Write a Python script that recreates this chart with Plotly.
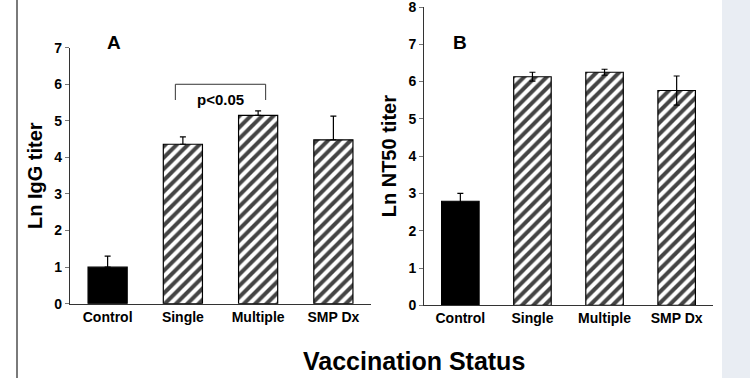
import plotly.graph_objects as go

categories = ["Control", "Single", "Multiple", "SMP Dx"]
igg_values = [1.0, 4.36, 5.15, 4.48]
igg_err_up = [0.3, 0.2, 0.12, 0.65]
nt50_values = [2.79, 6.13, 6.25, 5.76]
nt50_err_up = [0.21, 0.12, 0.08, 0.39]
nt50_err_down = [0.27, 0.12, 0.08, 0.39]
igg_ticks = [0, 1, 2, 3, 4, 5, 6, 7]
nt50_ticks = [0, 1, 2, 3, 4, 5, 6, 7, 8]

W, H = 750, 378
FONT = "Liberation Sans, Arial, sans-serif"

def px_x(a, b):
    return [a / W, b / W]

def px_y(top, bottom):
    return [(H - bottom) / H, (H - top) / H]

def pt_x(a):
    return a / W

def pt_y(a):
    return (H - a) / H

pattern_shapes = ["", "/", "/", "/"]
bar_colors = ["black", "white", "white", "white"]

fig = go.Figure()

for vals, up, down, xa, ya in [
    (igg_values, igg_err_up, [0, 0, 0, 0], "x", "y"),
    (nt50_values, nt50_err_up, nt50_err_down, "x2", "y2"),
]:
    fig.add_trace(go.Bar(
        x=categories, y=vals, xaxis=xa, yaxis=ya,
        width=0.52,
        marker=dict(color=bar_colors, line=dict(color="black", width=1.2),
                    pattern=dict(shape=pattern_shapes, fgcolor="black", fgopacity=1,
                                 size=8, solidity=0.5, fillmode="overlay")),
        error_y=dict(type="data", symmetric=False, array=up,
                     arrayminus=down, color="black", thickness=1.2, width=3),
        showlegend=False,
    ))

tickfont = dict(family=FONT, size=14, color="black", weight="bold")
catfont = dict(family=FONT, size=14, color="black", weight="bold")
common_x = dict(type="category", range=[-0.5, 3.5], showline=True, linecolor="#333333",
                linewidth=1.2, ticks="", tickfont=catfont, showgrid=False,
                zeroline=False, fixedrange=True, automargin=False)
common_y = dict(showline=True, linecolor="#333333", linewidth=1.2, ticks="outside",
                ticklen=4, tickwidth=1, tickcolor="#777777", tickfont=tickfont,
                showgrid=False, zeroline=False, fixedrange=True, automargin=False,
                ticklabeloverflow="allow")

fig.update_layout(
    width=W, height=H,
    margin=dict(l=0, r=0, t=0, b=0, pad=0),
    paper_bgcolor="white", plot_bgcolor="rgba(0,0,0,0)",
    font=dict(family=FONT, color="black"),
    xaxis=dict(domain=px_x(70, 371), anchor="y", **common_x),
    yaxis=dict(domain=px_y(47.7, 303.7), anchor="x", range=[0, 7],
               tickvals=igg_ticks,
               title=dict(text="Ln IgG titer", font=dict(family=FONT, size=20, weight="bold"),
                          standoff=6),
               **common_y),
    xaxis2=dict(domain=px_x(424.3, 712.7), anchor="y2", **common_x),
    yaxis2=dict(domain=px_y(7, 305.3), anchor="x2", range=[0, 8],
                tickvals=nt50_ticks,
                title=dict(text="Ln NT50 titer", font=dict(family=FONT, size=20, weight="bold"),
                           standoff=6),
                **common_y),
)

# background decorations
fig.add_shape(type="rect", xref="paper", yref="paper", x0=pt_x(722), x1=1, y0=0, y1=1,
              fillcolor="#e9edf3", line=dict(width=0), layer="below")
fig.add_shape(type="line", xref="paper", yref="paper", x0=pt_x(17), x1=pt_x(17), y0=0, y1=1,
              line=dict(color="#7a7a7a", width=2))

# significance bracket between Single and Multiple in panel A
for x0, x1, y0, y1 in [(0.9, 0.9, 5.57, 6.0), (0.9, 2.1, 6.0, 6.0), (2.1, 2.1, 5.57, 6.0)]:
    fig.add_shape(type="line", xref="x", yref="y", x0=x0, x1=x1, y0=y0, y1=y1,
                  line=dict(color="#333333", width=1))
fig.add_annotation(x=1.5, y=5.58, xref="x", yref="y", text="p<0.05", showarrow=False,
                   xanchor="center", yanchor="middle",
                   font=dict(family=FONT, size=15, weight="bold"))

labels = [("A", 114, 43, 19), ("B", 460, 43, 19), ("Vaccination Status", 414, 361, 25)]
for txt, lx, ly, fs in labels:
    fig.add_annotation(x=pt_x(lx), y=pt_y(ly), xref="paper", yref="paper", text=txt,
                       showarrow=False, xanchor="center", yanchor="middle",
                       font=dict(family=FONT, size=fs, weight="bold"))

# remove the default 8px page margin so the figure fills the window exactly
fig.write_html("out.html", config={"displayModeBar": False},
               post_script="document.body.style.margin='0';")
